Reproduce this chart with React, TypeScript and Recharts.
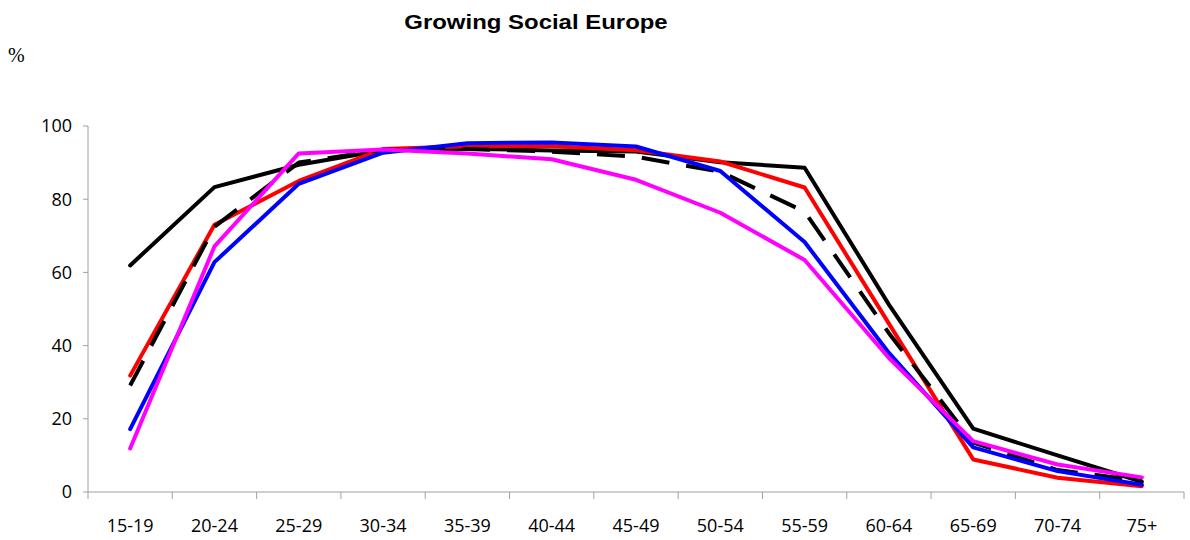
import React from "react";
import { LineChart, Line, XAxis, YAxis } from "recharts";

const categories = ["15-19", "20-24", "25-29", "30-34", "35-39", "40-44", "45-49", "50-54", "55-59", "60-64", "65-69", "70-74", "75+"];
const blackSolid = [61.9, 83.3, 89.4, 93.4, 93.8, 93.3, 93.0, 90.1, 88.6, 51.2, 17.3, 10.0, 2.8];
const blackDashed = [29.1, 72.5, 90.0, 93.5, 93.7, 93.0, 91.6, 87.5, 76.6, 43.4, 13.5, 6.0, 3.0];
const red = [31.8, 73.0, 85.0, 93.7, 94.5, 94.5, 93.4, 90.3, 83.2, 46.0, 8.9, 3.9, 1.6];
const blue = [17.2, 62.8, 84.2, 92.7, 95.3, 95.5, 94.4, 87.7, 68.3, 38.0, 12.2, 5.7, 2.0];
const magenta = [11.9, 67.1, 92.5, 93.6, 92.5, 90.9, 85.3, 76.3, 63.4, 36.6, 13.9, 7.5, 4.0];
const yTicks = [0, 20, 40, 60, 80, 100];

const data = categories.map((c, i) => ({
  cat: c,
  blackSolid: blackSolid[i],
  blackDashed: blackDashed[i],
  red: red[i],
  blue: blue[i],
  magenta: magenta[i],
}));

const W = 1190;
const H = 540;
const MARGIN = { top: 126, right: 6, left: 0, bottom: 0 };
const YAXIS_W = 88;
const XAXIS_H = 48;
const PLOT_W = W - MARGIN.left - MARGIN.right - YAXIS_W;
const BAND = PLOT_W / categories.length;
const AXIS_COLOR = "#a0a0a0";
const FONT = "'Open Sans', sans-serif";

const XTick = (props: any) => {
  const { x, y, payload, index } = props;
  const last = index === categories.length - 1;
  return (
    <g>
      <line x1={x - BAND / 2} x2={x - BAND / 2} y1={y} y2={y + 7} stroke={AXIS_COLOR} strokeWidth={1} />
      {last && <line x1={x + BAND / 2} x2={x + BAND / 2} y1={y} y2={y + 7} stroke={AXIS_COLOR} strokeWidth={1} />}
      <text x={x} y={y + 40} textAnchor="middle" fontFamily={FONT} fontSize={18} fill="#000">
        {payload.value}
      </text>
    </g>
  );
};

export default function App() {
  return (
    <div style={{ position: "absolute", left: 0, top: 0, width: W, height: H, background: "#fff" }}>
      <div
        style={{
          position: "absolute",
          left: 536,
          top: 10,
          transform: "translateX(-50%) scaleX(1.14)",
          fontFamily: "'Liberation Sans', Arial, sans-serif",
          fontWeight: "bold",
          fontSize: 21,
          lineHeight: "normal",
          whiteSpace: "nowrap",
          color: "#000",
        }}
      >
        Growing Social Europe
      </div>
      <div
        style={{
          position: "absolute",
          left: 8,
          top: 44,
          fontFamily: "'Liberation Serif', 'Times New Roman', serif",
          fontSize: 20,
          lineHeight: "normal",
          color: "#000",
        }}
      >
        %
      </div>
      <LineChart width={W} height={H} data={data} margin={MARGIN}>
        <XAxis
          dataKey="cat"
          scale="band"
          height={XAXIS_H}
          interval={0}
          tickLine={false}
          tickSize={0}
          tickMargin={0}
          axisLine={{ stroke: AXIS_COLOR, strokeWidth: 1 }}
          tick={<XTick />}
        />
        <YAxis
          domain={[0, 100]}
          ticks={yTicks}
          width={YAXIS_W}
          interval={0}
          tickSize={5}
          tickMargin={11}
          axisLine={{ stroke: AXIS_COLOR, strokeWidth: 1 }}
          tickLine={{ stroke: AXIS_COLOR, strokeWidth: 1 }}
          tick={{ fontFamily: FONT, fontSize: 18, fill: "#000" }}
        />
        <Line dataKey="blackSolid" stroke="#000000" strokeWidth={4} dot={false} strokeLinecap="round" strokeLinejoin="round" isAnimationActive={false} />
        <Line dataKey="red" stroke="#ff0000" strokeWidth={4} dot={false} strokeLinecap="round" strokeLinejoin="round" isAnimationActive={false} />
        <Line dataKey="blackDashed" stroke="#000000" strokeWidth={4} strokeDasharray="28 17" dot={false} strokeLinejoin="round" isAnimationActive={false} />
        <Line dataKey="blue" stroke="#0000ff" strokeWidth={4} dot={false} strokeLinecap="round" strokeLinejoin="round" isAnimationActive={false} />
        <Line dataKey="magenta" stroke="#ff00ff" strokeWidth={4} dot={false} strokeLinecap="round" strokeLinejoin="round" isAnimationActive={false} />
      </LineChart>
    </div>
  );
}
